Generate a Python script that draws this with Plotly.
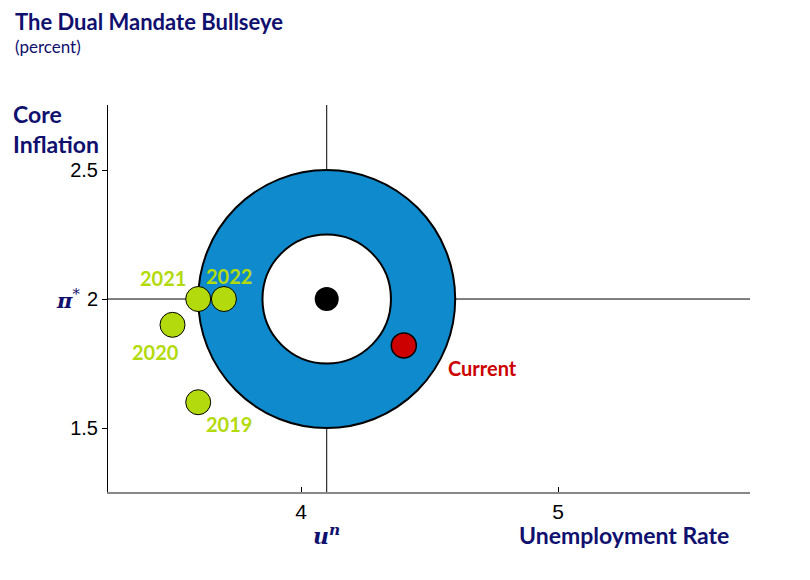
import plotly.graph_objects as go

# ── data ──────────────────────────────────────────────
UN_STAR = 4.1          # natural rate of unemployment
PI_STAR = 2.0          # inflation target
RING_OUTER = 0.5
RING_INNER = 0.25

years      = ["2019", "2020", "2021", "2022"]
years_unem = [3.6, 3.5, 3.6, 3.7]
years_infl = [1.6, 1.9, 2.0, 2.0]

current_label = "Current"
current_unem  = 4.4
current_infl  = 1.82

x_tickvals = [4, 5]
y_tickvals = [1.5, 2, 2.5]
y_ticktext = ["1.5", "2", "2.5"]

# ── style ─────────────────────────────────────────────
NAVY  = "#10106E"
BLUE  = "#0F8BCD"
GREEN = "#B3DA0D"
RED   = "#CC0000"
LABEL_FONT = "Lato, 'Open Sans', sans-serif"

fig = go.Figure()

# bullseye ring
fig.add_shape(type="circle", xref="x", yref="y",
              x0=UN_STAR - RING_OUTER, x1=UN_STAR + RING_OUTER,
              y0=PI_STAR - RING_OUTER, y1=PI_STAR + RING_OUTER,
              fillcolor=BLUE, line=dict(color="black", width=2), layer="below")
fig.add_shape(type="circle", xref="x", yref="y",
              x0=UN_STAR - RING_INNER, x1=UN_STAR + RING_INNER,
              y0=PI_STAR - RING_INNER, y1=PI_STAR + RING_INNER,
              fillcolor="white", line=dict(color="black", width=2), layer="below")

# cross-hair lines
fig.add_shape(type="line", xref="x", yref="paper", x0=UN_STAR, x1=UN_STAR, y0=0, y1=1,
              line=dict(color="black", width=1), layer="below")
fig.add_shape(type="line", xref="paper", yref="y", x0=0, x1=1, y0=PI_STAR, y1=PI_STAR,
              line=dict(color="black", width=1), layer="below")

# target centre
fig.add_trace(go.Scatter(x=[UN_STAR], y=[PI_STAR], mode="markers",
                         marker=dict(size=24, color="black"), hoverinfo="skip"))

# past years
fig.add_trace(go.Scatter(x=years_unem, y=years_infl, mode="markers",
                         marker=dict(size=25, color=GREEN, line=dict(color="black", width=1)),
                         text=years, hovertemplate="%{text}: %{x}, %{y}<extra></extra>"))

# current
fig.add_trace(go.Scatter(x=[current_unem], y=[current_infl], mode="markers",
                         marker=dict(size=25, color=RED, line=dict(color="black", width=1.5)),
                         hovertemplate="Current: %{x}, %{y}<extra></extra>"))

# point labels (pixel offsets from the point)
year_offsets = {"2019": (31, -22), "2020": (-17, -27), "2021": (-35, 21), "2022": (5, 23)}
for yr, ux, px in zip(years, years_unem, years_infl):
    dx, dy = year_offsets[yr]
    fig.add_annotation(x=ux, y=px, text=f"<b>{yr}</b>", showarrow=False,
                       xshift=dx, yshift=dy, font=dict(size=20, color=GREEN, family=LABEL_FONT))
fig.add_annotation(x=current_unem, y=current_infl, text=f"<b>{current_label}</b>",
                   showarrow=False, xshift=79, yshift=-23,
                   font=dict(size=20, color=RED, family=LABEL_FONT))

# title & axis labels
fig.add_annotation(xref="paper", yref="paper", x=-0.148, y=1.215, xanchor="left", yanchor="middle",
                   text="<b>The Dual Mandate Bullseye</b>", showarrow=False,
                   font=dict(size=22, color=NAVY, family=LABEL_FONT))
fig.add_annotation(xref="paper", yref="paper", x=-0.148, y=1.152, xanchor="left", yanchor="middle",
                   text="(percent)", showarrow=False,
                   font=dict(size=17, color=NAVY, family=LABEL_FONT))
fig.add_annotation(xref="paper", yref="paper", x=-0.151, y=0.937, xanchor="left", yanchor="middle",
                   text="<b>Core<br>Inflation</b>", showarrow=False, align="left",
                   font=dict(size=23, color=NAVY, family=LABEL_FONT))
fig.add_annotation(xref="paper", yref="y", x=-0.062, y=PI_STAR, xanchor="center", yanchor="middle",
                   text="<b><i>π</i></b><sup>*</sup>", showarrow=False,
                   font=dict(size=21, color=NAVY, family="DejaVu Serif, serif"))
fig.add_annotation(xref="x", yref="paper", x=UN_STAR, y=-0.111, xanchor="center", yanchor="middle",
                   text="<b><i>u</i></b><sup><b><i>n</i></b></sup>", showarrow=False,
                   font=dict(size=22, color=NAVY, family="DejaVu Serif, serif"))
fig.add_annotation(xref="paper", yref="paper", x=0.804, y=-0.112, xanchor="center", yanchor="middle",
                   text="<b>Unemployment Rate</b>", showarrow=False,
                   font=dict(size=23, color=NAVY, family=LABEL_FONT))

# page body adds an 8 px offset, so the figure is 8 px smaller than the window
fig.update_layout(
    width=802, height=572,
    margin=dict(l=100, r=60, t=97, b=88),
    plot_bgcolor="white", paper_bgcolor="white",
    showlegend=False,
    xaxis=dict(range=[3.249, 5.747], tickvals=x_tickvals, ticks="inside", ticklen=5,
               tickcolor="black", showline=True, linecolor="#888888", linewidth=1.5,
               showgrid=False, zeroline=False, ticklabelstandoff=0,
               tickfont=dict(size=21, color="black", family="Liberation Sans, Arial, sans-serif")),
    yaxis=dict(range=[1.252, 2.752], tickvals=y_tickvals, ticktext=y_ticktext,
               ticks="outside", ticklen=5, tickcolor="black",
               showline=True, linecolor="black", linewidth=1,
               showgrid=False, zeroline=False,
               tickfont=dict(size=20, color="black", family="Liberation Sans, Arial, sans-serif")),
)

fig.write_html("out.html")
